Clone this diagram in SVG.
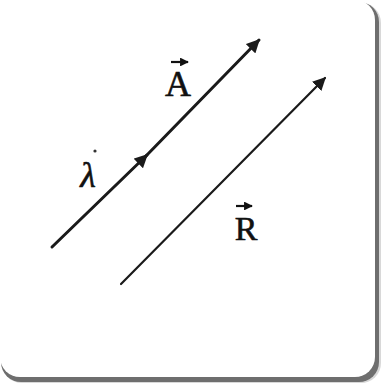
<svg xmlns="http://www.w3.org/2000/svg" width="385" height="391" viewBox="0 0 385 391">
<style>
.vec{stroke:#1a1a1a;fill:none;stroke-linecap:round}
.lbl{font-family:"Liberation Serif","DejaVu Serif",serif;fill:#111;stroke:#111;stroke-width:0.6}
</style>
<defs>
<marker id="ah" viewBox="0 0 10 10" refX="9" refY="5" markerWidth="4.5" markerHeight="4.5" orient="auto" markerUnits="strokeWidth">
<path d="M0,0 L10,5 L0,10 z" fill="#1a1a1a"/>
</marker>
<marker id="ah2" viewBox="0 0 10 10" refX="9" refY="5" markerWidth="6" markerHeight="6" orient="auto" markerUnits="strokeWidth">
<path d="M0,0 L10,5 L0,10 z" fill="#1a1a1a"/>
</marker>
<marker id="sm" viewBox="0 0 10 10" refX="9" refY="5" markerWidth="4" markerHeight="4" orient="auto" markerUnits="strokeWidth">
<path d="M0,0 L10,5 L0,10 z" fill="#111"/>
</marker>
</defs>
<rect width="385" height="391" fill="#ffffff"/>
<g id="card">
<rect x="2" y="3" width="379" height="380" rx="20" fill="#d8d8d8"/>
<rect x="1" y="2" width="378" height="380" rx="20" fill="#6e6e6e"/>
<rect x="0" y="0" width="375" height="377" rx="20" fill="#ffffff"/>
</g>
<g id="connectors">
<line class="vec" x1="52" y1="247" x2="147" y2="155" stroke-width="3" marker-end="url(#ah)"/>
<line class="vec" x1="145" y1="157" x2="259" y2="40" stroke-width="3" marker-end="url(#ah)"/>
<line class="vec" x1="121" y1="284" x2="325" y2="78" stroke-width="2.2" marker-end="url(#ah2)"/>
</g>
<g id="label-A">
<line x1="171" y1="62" x2="188" y2="62" stroke="#111" stroke-width="2.2" marker-end="url(#sm)"/>
<text class="lbl" x="178" y="96" font-size="36" text-anchor="middle">A</text>
</g>
<g id="label-lambda">
<circle cx="95" cy="151" r="1.6" fill="#333"/>
<text class="lbl" x="88" y="187" font-size="36" text-anchor="middle" font-style="italic">λ</text>
</g>
<g id="label-R">
<line x1="236" y1="206" x2="252" y2="206" stroke="#111" stroke-width="2.2" marker-end="url(#sm)"/>
<text class="lbl" x="246" y="240" font-size="34" text-anchor="middle">R</text>
</g>
</svg>
